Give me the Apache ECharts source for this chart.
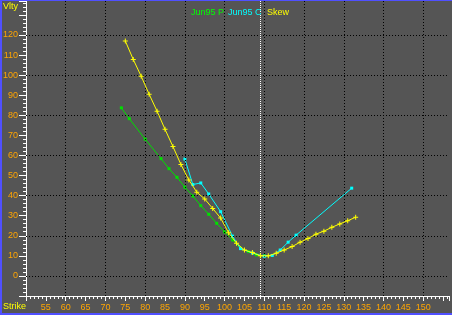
<!DOCTYPE html>
<html><head><meta charset="utf-8">
<script src="https://cdn.jsdelivr.net/npm/echarts@6/dist/echarts.min.js"></script>
<style>html,body{margin:0;padding:0;background:#555555;}#c{width:452px;height:315px;}</style>
</head><body><div id="c"></div>
<script>
// Jun95 P (puts)
const strikesP = [74,76,80,84,86,88,90,92,94,96,98,100,102,104,106,108,110];
const volP     = [83.7,78.3,68.1,58.4,53.4,49.1,44.2,39.8,35.0,30.7,26.2,21.9,17.9,13.8,12.1,10.5,10.0];
// Jun95 C (calls)
const strikesC = [90,92,94,96,99,102,104,107,110,112,114,116,118,132];
const volC     = [58.2,45.5,46.3,40.8,32.0,19.8,13.6,11.4,9.8,10.2,12.9,16.8,20.3,43.7];
// Skew (fitted)
const strikesS = [75,77,79,81,83,85,87,89,91,93,95,97,99,101,103,105,107,109,111,113,115,117,119,121,123,125,127,129,131,133];
const volS     = [117.0,107.8,99.4,90.5,82.0,73.0,64.4,55.5,47.8,41.7,38.3,33.6,28.8,21.5,16.3,12.9,11.6,10.0,10.0,11.3,12.9,14.6,16.8,18.6,20.8,22.3,24.2,25.9,27.5,29.2];
// grid lines and reference line
const gridX = [60,70,80,90,100,110,120,130,140,150];
const gridY = [0,20,40,60,80,100,120];
const underlying = 109;
const legendNames = ['Jun95 P','Jun95 C','Skew'];
const yName = 'Vlty';
const xName = 'Strike';

const zip = (a,b) => a.map((v,i)=>[v,b[i]]);
const plus = 'path://M2,0H3V2H5V3H3V5H2V3H0V2H2Z';
const chart = echarts.init(document.getElementById('c'));
const font = 'Liberation Sans, Arial, sans-serif';
function ttl(s,x,y,color,size){
  return {text:s,left:x,top:y,padding:0,itemGap:0,
    textStyle:{color:color,fontSize:size,fontWeight:'normal',fontFamily:font}};
}
chart.setOption({
  animation:false,
  backgroundColor:'#555555',
  title:[
    ttl(xName,3,302,'#FFFF00',9),
    ttl(legendNames[0],191,8,'#00FF00',9),
    ttl(legendNames[1],228,8,'#00FFFF',9),
    ttl(legendNames[2],267,8,'#FFFF00',9)
  ],
  grid:{left:26,right:0,top:1,bottom:19,containLabel:false},
  xAxis:{type:'value',min:50,max:156.5,interval:5,
    axisLine:{onZero:false,lineStyle:{color:'#ffffff',width:1}},
    axisTick:{length:5,lineStyle:{color:'#ffffff'}},
    minorTick:{show:true,splitNumber:5,length:3,lineStyle:{color:'#ffffff'}},
    splitLine:{show:false},
    axisLabel:{color:'#FFA500',fontSize:9,fontFamily:font,margin:7,
      formatter:v=> (v>=55 && v<=150 && v%5===0) ? String(v) : ''}},
  yAxis:{type:'value',min:-10,max:136.9,interval:10,
    name:yName,nameLocation:'end',nameGap:-6,
    nameTextStyle:{color:'#FFFF00',fontSize:9,fontFamily:font,align:'right',verticalAlign:'middle',padding:[0,8,0,0]},
    axisLine:{onZero:false,lineStyle:{color:'#ffffff',width:1}},
    axisTick:{length:7,lineStyle:{color:'#ffffff'}},
    minorTick:{show:true,splitNumber:5,length:3,lineStyle:{color:'#ffffff'}},
    splitLine:{show:false},
    axisLabel:{color:'#FFA500',fontSize:9,fontFamily:font,margin:8,
      formatter:v=> (v>=0 && v<=120 && v%10===0) ? String(v) : ''}},
  series:[
    {type:'line',data:[],z:1,silent:true,
      markLine:{silent:true,symbol:['none','none'],label:{show:false},animation:false,
        lineStyle:{color:'#000000',type:[1,2],width:1},
        data:[...gridX.map(x=>({xAxis:x})),...gridY.map(y=>({yAxis:y})),
          {xAxis:underlying,lineStyle:{color:'#ffffff',type:[1,1],width:1}}]}},
    {name:legendNames[0],type:'line',data:zip(strikesP,volP),z:3,
      lineStyle:{color:'#00E000',width:1},itemStyle:{color:'#00E000'},
      symbol:'rect',symbolSize:3,showSymbol:true},
    {name:legendNames[1],type:'line',data:zip(strikesC,volC),z:4,
      lineStyle:{color:'#00FFFF',width:1},itemStyle:{color:'#00FFFF'},
      symbol:'rect',symbolSize:3,showSymbol:true},
    {name:legendNames[2],type:'line',data:zip(strikesS,volS),z:5,
      lineStyle:{color:'#FFFF00',width:1},itemStyle:{color:'#FFFF00'},
      symbol:plus,symbolSize:5,showSymbol:true}
  ],
  graphic:[
    {type:'rect',shape:{x:0,y:0,width:452,height:1},style:{fill:'#5050FF'},z:100,silent:true},
    {type:'rect',shape:{x:0,y:0,width:2,height:315},style:{fill:'#5050FF'},z:100,silent:true},
    {type:'rect',shape:{x:0,y:313,width:452,height:2},style:{fill:'#5050FF'},z:100,silent:true}
  ]
});
</script></body></html>
